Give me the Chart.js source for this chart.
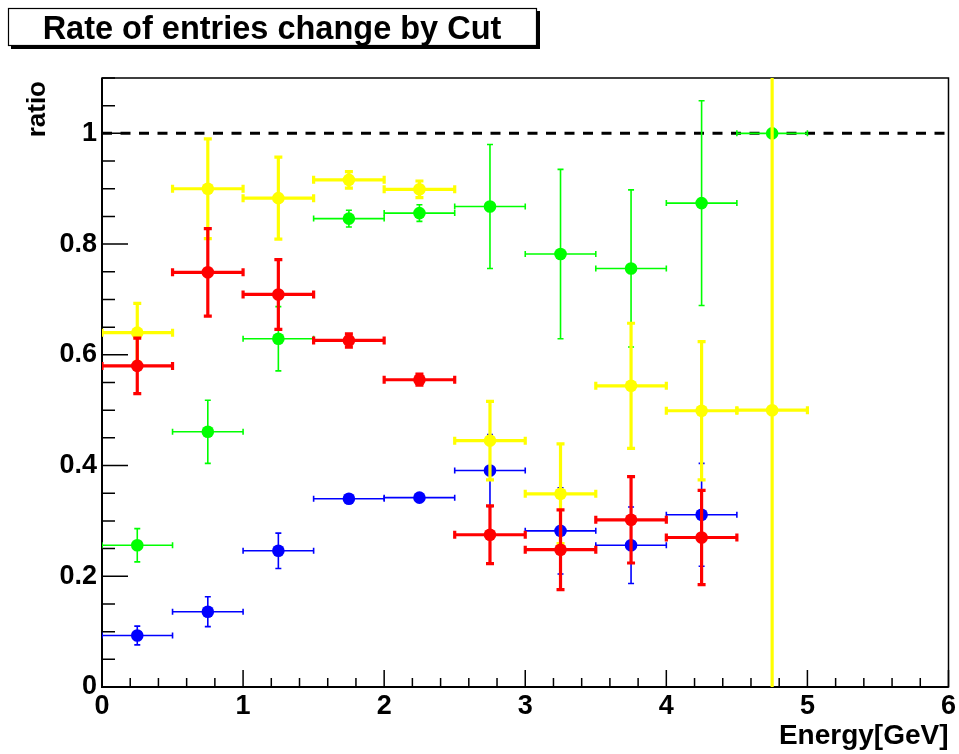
<!DOCTYPE html>
<html>
<head>
<meta charset="utf-8">
<script src="https://cdn.jsdelivr.net/npm/chart.js@4"></script>
<style>
  html, body { margin: 0; padding: 0; background: #fff; }
  #wrap { width: 959px; height: 754px; }
</style>
</head>
<body>
<div id="wrap"><canvas id="ratioChart" width="959" height="754"></canvas></div>
<script>
// bin centres in GeV, every bin is 0.5 GeV wide
const energy = [0.25, 0.75, 1.25, 1.75, 2.25, 2.75, 3.25, 3.75, 4.25, 4.75];
const halfBin = 0.25;

const ratioBlue = [0.093, 0.136, 0.246, 0.340, 0.342, 0.391, 0.282, 0.256, 0.311];
const errBlue   = [0.017, 0.027, 0.032, 0.006, 0.006, 0.065, 0.078, 0.069, 0.093];

const ratioGreen = [0.256, 0.461, 0.629, 0.846, 0.856, 0.868, 0.782, 0.756, 0.874, 1.0];
const errGreen   = [0.030, 0.057, 0.058, 0.015, 0.015, 0.112, 0.153, 0.142, 0.185, 0];

const ratioYellow = [0.640, 0.900, 0.883, 0.916, 0.899, 0.445, 0.349, 0.544, 0.499, 0.5];
const errYellow   = [0.053, 0.090, 0.074, 0.015, 0.015, 0.071, 0.090, 0.113, 0.125, 0.7];

const ratioRed = [0.580, 0.749, 0.709, 0.626, 0.555, 0.275, 0.248, 0.302, 0.270];
const errRed   = [0.050, 0.079, 0.063, 0.012, 0.010, 0.052, 0.072, 0.078, 0.085];

// reference line at ratio = 1
const refX = [0, 6];
const refY = [1, 1];

const xTicks = [0, 1, 2, 3, 4, 5, 6];
const yTicks = [0, 0.2, 0.4, 0.6, 0.8, 1];

const FONT = 'Liberation Sans, Arial, Helvetica, sans-serif';

function points(ys) {
    return ys.map((y, i) => ({ x: energy[i], y: y }));
}

function series(label, ys, errs, color, width, order) {
    return {
        label: label,
        data: points(ys),
        yErr: errs,
        errWidth: width,
        borderColor: color,
        backgroundColor: color,
        pointRadius: 6.3,
        pointHoverRadius: 6.3,
        pointBorderWidth: 0,
        showLine: false,
        order: order
    };
}

// ROOT style error crosses, drawn just before each dataset's markers
const errorBars = {
    id: 'errorBars',
    beforeDatasetDraw(chart, args) {
        const ds = chart.data.datasets[args.index];
        if (!ds.yErr) return;
        const { ctx, chartArea: a, scales: { x, y } } = chart;
        const cap = ds.errWidth > 2 ? 4 : 3;
        ctx.save();
        ctx.beginPath();
        ctx.rect(a.left, a.top, a.right - a.left, a.bottom - a.top);
        ctx.clip();
        ctx.strokeStyle = ds.borderColor;
        ctx.lineWidth = ds.errWidth;
        ctx.lineCap = 'butt';
        ds.data.forEach((p, i) => {
            const px = x.getPixelForValue(p.x);
            const py = y.getPixelForValue(p.y);
            const x0 = x.getPixelForValue(p.x - halfBin);
            const x1 = x.getPixelForValue(p.x + halfBin);
            ctx.beginPath();
            ctx.moveTo(x0, py); ctx.lineTo(x1, py);
            ctx.moveTo(x0, py - cap); ctx.lineTo(x0, py + cap);
            ctx.moveTo(x1, py - cap); ctx.lineTo(x1, py + cap);
            const e = ds.yErr[i];
            if (e > 0) {
                const y0 = y.getPixelForValue(p.y - e);
                const y1 = y.getPixelForValue(p.y + e);
                ctx.moveTo(px, y0); ctx.lineTo(px, y1);
                ctx.moveTo(px - cap, y0); ctx.lineTo(px + cap, y0);
                ctx.moveTo(px - cap, y1); ctx.lineTo(px + cap, y1);
            }
            ctx.stroke();
        });
        ctx.restore();
    }
};

// frame with inward ticks like a ROOT canvas
const frame = {
    id: 'frame',
    beforeDatasetsDraw(chart) {
        const { ctx, chartArea: a, scales: { x, y } } = chart;
        ctx.save();
        ctx.strokeStyle = '#000';
        ctx.lineWidth = 1.5;
        ctx.strokeRect(a.left, a.top, a.right - a.left, a.bottom - a.top);
        ctx.lineWidth = 2;
        ctx.beginPath();
        ctx.moveTo(a.left, a.top); ctx.lineTo(a.left, a.bottom); ctx.lineTo(a.right, a.bottom);
        ctx.stroke();

        ctx.lineWidth = 1.5;
        ctx.beginPath();
        for (let k = 0; k <= 30; k++) {
            const px = x.getPixelForValue(k * 0.2);
            const len = k % 5 === 0 ? 17 : 9;
            ctx.moveTo(px, a.bottom); ctx.lineTo(px, a.bottom - len);
        }
        for (let k = 0; k <= 22; k++) {
            const py = y.getPixelForValue(k * 0.05);
            const len = k % 4 === 0 ? 26 : 13;
            ctx.moveTo(a.left, py); ctx.lineTo(a.left + len, py);
        }
        ctx.stroke();
        ctx.restore();
    },
    afterDraw(chart) {
        const { ctx, chartArea: a } = chart;
        ctx.save();
        // title box with shadow
        ctx.fillStyle = '#000';
        ctx.fillRect(11, 11, 529, 38);
        ctx.fillStyle = '#fff';
        ctx.fillRect(8, 8, 529, 38);
        ctx.strokeStyle = '#000';
        ctx.lineWidth = 1.2;
        ctx.strokeRect(8.5, 8.5, 528, 37);
        ctx.fillStyle = '#000';
        ctx.font = 'bold 32.5px ' + FONT;
        ctx.textAlign = 'center';
        ctx.textBaseline = 'alphabetic';
        ctx.fillText('Rate of entries change by Cut', 272, 39);

        // axis titles
        ctx.font = 'bold 28px ' + FONT;
        ctx.textAlign = 'right';
        ctx.fillText('Energy[GeV]', a.right, 744);

        ctx.translate(45, a.top + 3);
        ctx.rotate(-Math.PI / 2);
        ctx.font = 'bold 26px ' + FONT;
        ctx.textAlign = 'right';
        ctx.fillText('ratio', 0, 0);
        ctx.restore();
    }
};

const datasets = [
    {
        label: 'ratio = 1',
        data: refX.map((x, i) => ({ x: x, y: refY[i] })),
        showLine: true,
        borderColor: '#000',
        borderWidth: 3,
        borderDash: [10, 8.5],
        pointRadius: 0,
        order: 10
    },
    series('blue', ratioBlue, errBlue, '#0000ff', 1.6, 4),
    series('green', ratioGreen, errGreen, '#00ff00', 1.6, 3),
    series('yellow', ratioYellow, errYellow, '#ffff00', 3.2, 2),
    series('red', ratioRed, errRed, '#ff0000', 3.2, 1)
];

new Chart(document.getElementById('ratioChart').getContext('2d'), {
    type: 'scatter',
    data: { datasets },
    options: {
        responsive: false,
        animation: false,
        layout: { padding: { left: 0, top: 78, right: 10, bottom: 0 } },
        plugins: {
            legend: { display: false },
            tooltip: { enabled: false },
            title: { display: false }
        },
        scales: {
            x: {
                type: 'linear',
                min: 0,
                max: 6,
                grid: { display: false, drawTicks: false },
                border: { display: false },
                afterBuildTicks: s => { s.ticks = xTicks.map(v => ({ value: v })); },
                afterFit: s => { s.height = 67; },
                ticks: {
                    color: '#000',
                    padding: 3,
                    maxRotation: 0,
                    font: { family: FONT, weight: 'bold', size: 27 },
                    callback: v => String(v)
                }
            },
            y: {
                type: 'linear',
                min: 0,
                max: 1.1,
                grid: { display: false, drawTicks: false },
                border: { display: false },
                afterBuildTicks: s => { s.ticks = yTicks.map(v => ({ value: v })); },
                afterFit: s => { s.width = 102; },
                ticks: {
                    color: '#000',
                    padding: 5,
                    font: { family: FONT, weight: 'bold', size: 27 },
                    callback: v => String(Math.round(v * 10) / 10)
                }
            }
        }
    },
    plugins: [errorBars, frame]
});
</script>
</body>
</html>
